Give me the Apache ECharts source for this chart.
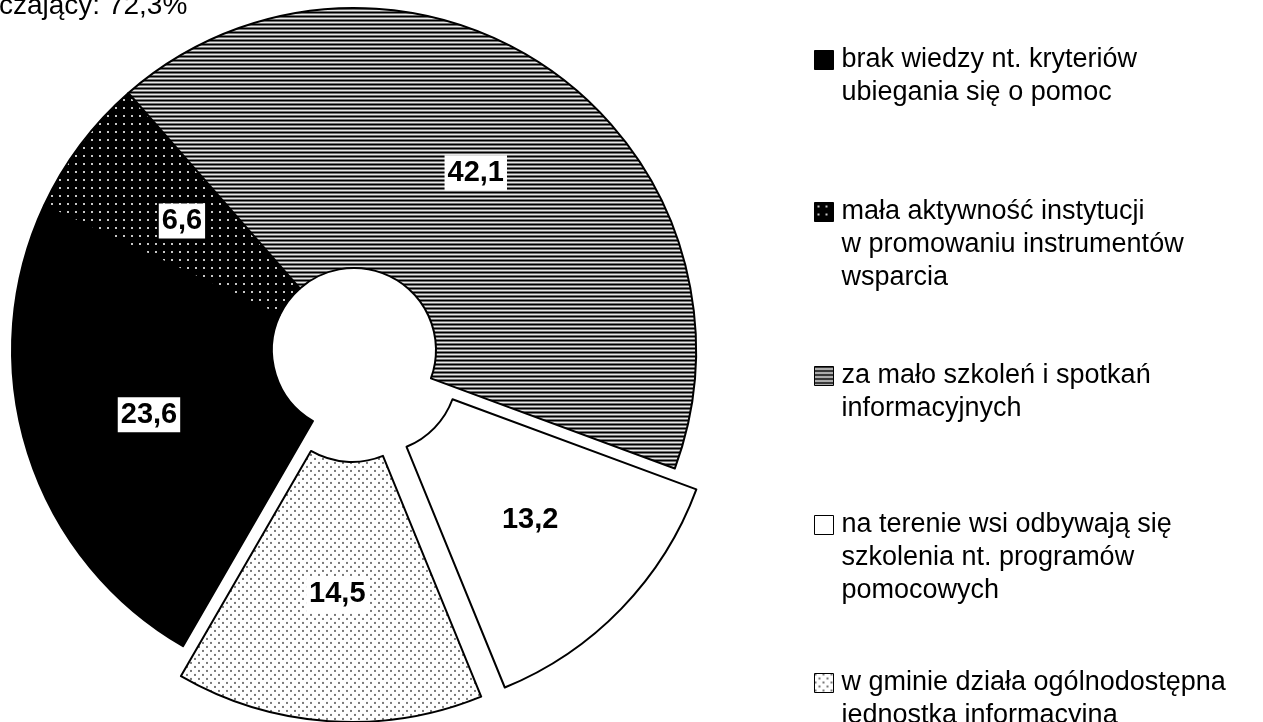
<!DOCTYPE html>
<html>
<head>
<meta charset="utf-8">
<script src="https://cdn.jsdelivr.net/npm/echarts@6/dist/echarts.min.js"></script>
<style>
  html, body { margin: 0; padding: 0; background: #fff; }
  #chart { width: 1263px; height: 722px; }
</style>
</head>
<body>
<div id="chart"></div>
<script>
// dane
const categories = [
  'brak wiedzy nt. kryteriów\nubiegania się o pomoc',
  'mała aktywność instytucji\nw promowaniu instrumentów\nwsparcia',
  'za mało szkoleń i spotkań\ninformacyjnych',
  'na terenie wsi odbywają się\nszkolenia nt. programów\npomocowych',
  'w gminie działa ogólnodostępna\njednostka informacyjna'
];
const values = [23.6, 6.6, 42.1, 13.2, 14.5];
const exploded = [false, false, false, true, true];
const summaryText = 'czający: 72,3%';

const FONT = 'Liberation Sans, Arial, sans-serif';

function makePattern(w, h, draw) {
  const c = document.createElement('canvas');
  c.width = w;
  c.height = h;
  draw(c.getContext('2d'));
  return { image: c, repeat: 'repeat' };
}

// wypełnienia (czarno-białe wzory)
const fills = [
  '#000',
  makePattern(8, 8, function (ctx) {
    ctx.fillStyle = '#000'; ctx.fillRect(0, 0, 8, 8);
    ctx.fillStyle = '#c8c8c8'; ctx.fillRect(3, 3, 2, 2);
  }),
  makePattern(4, 4, function (ctx) {
    ctx.fillStyle = '#000'; ctx.fillRect(0, 0, 4, 1);
    ctx.fillStyle = '#707070'; ctx.fillRect(0, 1, 4, 1);
    ctx.fillStyle = '#e8e8e8'; ctx.fillRect(0, 2, 4, 1);
    ctx.fillStyle = '#707070'; ctx.fillRect(0, 3, 4, 1);
  }),
  '#fff',
  makePattern(8, 8, function (ctx) {
    ctx.fillStyle = '#fff'; ctx.fillRect(0, 0, 8, 8);
    ctx.fillStyle = '#7a7a7a';
    ctx.fillRect(0, 0, 2, 2);
    ctx.fillRect(4, 4, 2, 2);
  })
];

const legendCenters = [60, 212, 376, 525, 683];
const lineH = 33;

let legends = categories.map(function (name, i) {
  let n = name.split('\n').length;
  return {
    data: [name],
    orient: 'vertical',
    left: 814,
    top: legendCenters[i] - (2 * n - 1) * lineH / 2,
    padding: 0,
    icon: 'rect',
    itemWidth: 19,
    itemHeight: 19,
    selectedMode: false,
    itemStyle: { borderWidth: 1, borderColor: '#000' },
    // puste linie nad tekstem, żeby ikona stała przy pierwszym wierszu
    formatter: function (nm) {
      return '\n'.repeat(n - 1) + nm;
    },
    textStyle: {
      fontFamily: FONT,
      fontSize: 27,
      color: '#000',
      lineHeight: lineH,
      padding: [0, 0, 0, 3]
    }
  };
});

let pieData = categories.map(function (name, i) {
  return {
    name: name,
    value: values[i],
    selected: exploded[i],
    itemStyle: { color: fills[i] }
  };
});

let option = {
  animation: false,
  title: {
    text: summaryText,
    left: -1,
    top: -8,
    padding: 0,
    textStyle: { fontFamily: FONT, fontSize: 28, fontWeight: 'normal', color: '#000' }
  },
  legend: legends,
  series: [
    {
      type: 'pie',
      center: [354, 350],
      radius: [82, 342],
      startAngle: 240,
      clockwise: true,
      selectedMode: 'multiple',
      selectedOffset: 30,
      avoidLabelOverlap: false,
      itemStyle: { borderColor: '#000', borderWidth: 2 },
      emphasis: { disabled: true, scale: false },
      select: { itemStyle: { borderColor: '#000', borderWidth: 2 } },
      label: {
        show: true,
        position: 'inside',
        fontFamily: FONT,
        fontSize: 29,
        fontWeight: 'bold',
        color: '#000',
        backgroundColor: '#fff',
        padding: [4, 3, 2, 3],
        formatter: function (p) {
          return String(p.value).replace('.', ',');
        }
      },
      labelLine: { show: false },
      data: pieData
    }
  ]
};

let myChart = echarts.init(document.getElementById('chart'));
myChart.setOption(option);
</script>
</body>
</html>
